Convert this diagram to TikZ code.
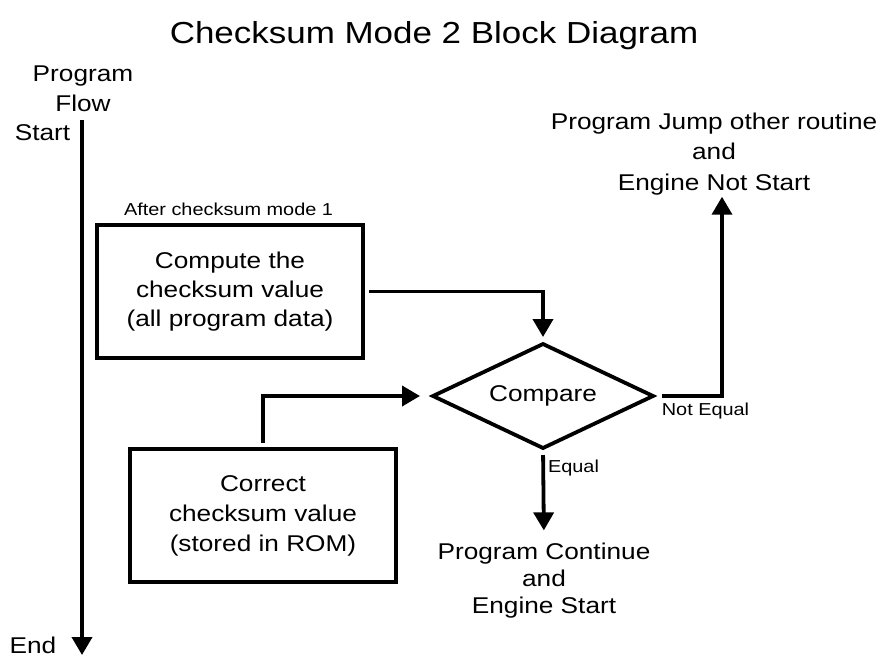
\documentclass[tikz,border=0pt]{standalone}
\usepackage{fontspec}
\setmainfont{Liberation Sans}[FakeStretch=1.15]
\usetikzlibrary{arrows.meta,shapes.geometric}

\begin{document}
\begin{tikzpicture}[x=1pt, y=-1pt, line width=3.8pt,
  every node/.style={inner sep=0pt, outer sep=0pt},
  txt/.style={align=center, font=\fontsize{22.8}{29}\selectfont},
  lbl/.style={font=\fontsize{17.3}{20}\selectfont, anchor=base},
  blk/.style={draw, txt, minimum width=266pt, minimum height=133pt},
  arr/.style={-{Triangle[width=20pt,length=18pt]}}]
  \useasboundingbox (0,0) rectangle (882,657);
  % Title
  \node[anchor=base, font=\fontsize{30.4}{36}\selectfont] (title) at (434,43) {Checksum Mode 2 Block Diagram};
  % Program flow
  \node[txt, font=\fontsize{22.8}{30}\selectfont] (flow) at (83,89) {Program\\Flow};
  \node[txt, anchor=base] (start) at (42.5,140) {Start};
  \node[txt, anchor=base] (end) at (33,653) {End};
  \coordinate (flowtop) at (82,120);
  \coordinate (flowbot) at (82,655);
  \draw[arr] (flowtop) -- (flowbot);
  % Blocks
  \node[lbl] (after) at (228.5,215) {After checksum mode 1};
  \node[blk] (compute) at (230,291.5) {Compute the\\checksum value\\(all program data)};
  \node[blk, font=\fontsize{22.8}{30}\selectfont] (correct) at (263,515.5) {Correct\\checksum value\\(stored in ROM)};
  \node[draw, diamond, aspect=2.115, minimum width=220pt, minimum height=104pt, txt] (compare) at (543,396) {Compare};
  % Results
  \node[txt, font=\fontsize{22.8}{30.5}\selectfont] (jump) at (714,153.6) {Program Jump other routine\\and\\Engine Not Start};
  \node[txt, font=\fontsize{22.8}{27}\selectfont] (cont) at (544,581) {Program Continue\\and\\Engine Start};
  \node[lbl] (neq) at (705.5,415) {Not Equal};
  \node[lbl] (eq) at (573.5,472) {Equal};
  % Connectors
  \draw[arr, shorten <=6pt, shorten >=7pt] (compute.east) -| (compare.north);
  \draw[arr, shorten <=6pt, shorten >=13pt] (correct.north) |- (compare.west);
  \draw[arr, shorten <=9pt, shorten >=2pt] (compare.east) -| ([xshift=8pt]jump.south);
  \draw[arr, shorten <=7pt, shorten >=13pt] (compare.south) -- (cont.north);
\end{tikzpicture}
\end{document}
